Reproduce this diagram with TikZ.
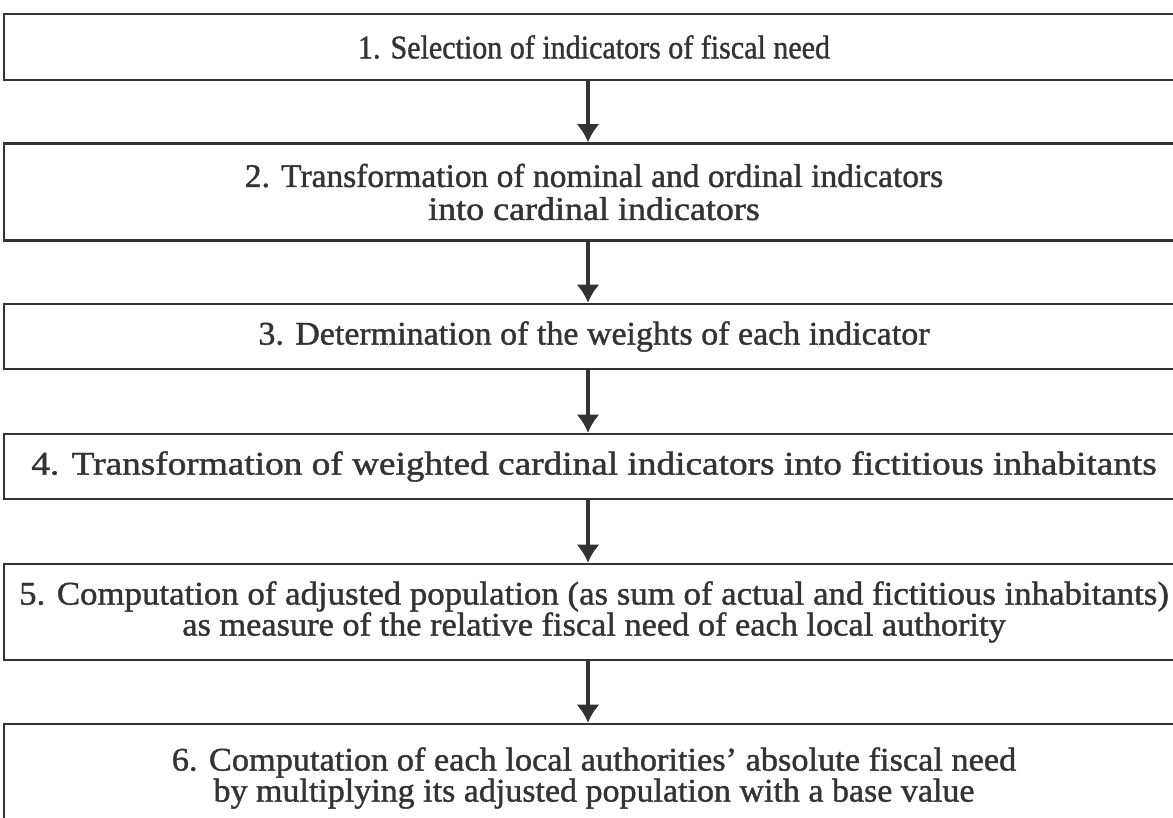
\documentclass[tikz,border=0pt]{standalone}
\usepackage{fontspec}
\setmainfont{Liberation Serif}[FakeBold=1.2]
\usepackage{graphicx}
\usetikzlibrary{arrows.meta}
\definecolor{ink}{HTML}{333333}
\newcommand{\stretchline}[2]{\scalebox{#1}[1]{#2}}
\begin{document}
\begin{tikzpicture}[x=1pt,y=-1pt,
  stepbox/.style={draw=ink, line width=2.6pt, minimum width=1180pt, inner sep=0pt,
    align=center, text=ink, font=\fontsize{33}{31}\selectfont},
  flow/.style={draw=ink, line width=3.2pt, -{Latex[length=18pt,width=23pt]}}]
\useasboundingbox (0,0) rectangle (1173,817);
\clip (0,0) rectangle (1173,817);
\node[stepbox, minimum height=66pt] (s1) at (594,47)
  {\stretchline{0.91}{1. Selection of indicators of fiscal need}};
\node[stepbox, minimum height=97pt] (s2) at (594,192)
  {\stretchline{1.015}{2. Transformation of nominal and ordinal indicators}\\[2pt]
   \stretchline{1.09}{into cardinal indicators}};
\node[stepbox, minimum height=65pt] (s3) at (594,336.5)
  {\stretchline{1.03}{3. Determination of the weights of each indicator}};
\node[stepbox, minimum height=65pt] (s4) at (594,466.5)
  {\stretchline{1.13}{4. Transformation of weighted cardinal indicators into fictitious inhabitants}};
\node[stepbox, minimum height=96pt] (s5) at (594,612)
  {\stretchline{1.055}{5. Computation of adjusted population (as sum of actual and fictitious inhabitants)}\\
   \stretchline{1.04}{as measure of the relative fiscal need of each local authority}};
\node[stepbox, minimum height=108pt] (s6) at (594,778)
  {\stretchline{1.04}{6. Computation of each local authorities’ absolute fiscal need}\\
   \stretchline{1.03}{by multiplying its adjusted population with a base value}};
\foreach \a/\b in {s1/s2, s2/s3, s3/s4, s4/s5, s5/s6}
  \draw[flow] ([xshift=-6pt]\a.south) -- ([xshift=-6pt]\b.north);
\end{tikzpicture}
\end{document}
